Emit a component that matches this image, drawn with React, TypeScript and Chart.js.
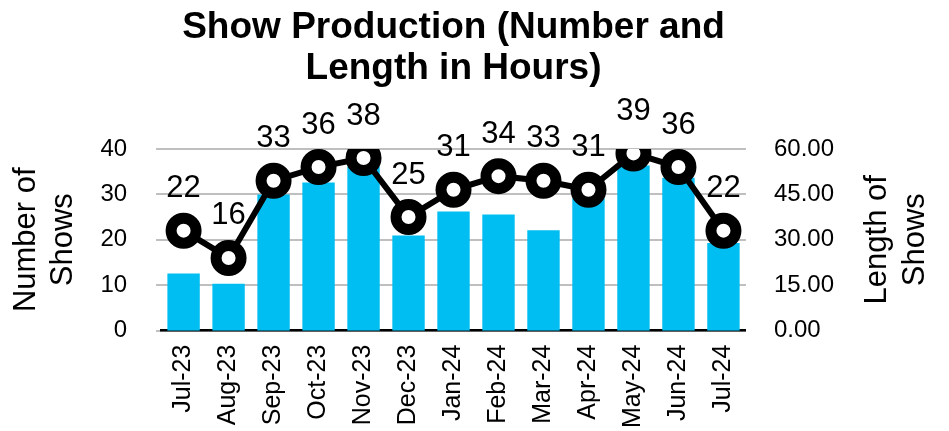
import React, { useEffect, useRef } from "react";
import { Chart, registerables } from "chart.js";

Chart.register(...registerables);

const categories = ["Jul-23", "Aug-23", "Sep-23", "Oct-23", "Nov-23", "Dec-23", "Jan-24", "Feb-24", "Mar-24", "Apr-24", "May-24", "Jun-24", "Jul-24"];
const numberOfShows = [22, 16, 33, 36, 38, 25, 31, 34, 33, 31, 39, 36, 22];
const lengthOfShows = [18.9, 15.5, 44.9, 48.9, 54.2, 31.4, 39.3, 38.3, 33.1, 43.7, 54.5, 50.5, 28.9];
const titleLines = ["Show Production (Number and", "Length in Hours)"];
const leftAxisTitle = ["Number of", "Shows"];
const rightAxisTitle = ["Length of", "Shows"];

const FONT = "'Liberation Sans', Arial, Helvetica, sans-serif";

const labelPlugin = {
  id: "pointLabels",
  afterDatasetsDraw(chart: any) {
    const meta = chart.getDatasetMeta(0);
    const ctx = chart.ctx;
    ctx.save();
    ctx.font = `31px ${FONT}`;
    ctx.fillStyle = "#000";
    ctx.textAlign = "center";
    ctx.textBaseline = "middle";
    meta.data.forEach((pt: any, i: number) => {
      ctx.fillText(String(numberOfShows[i]), pt.x, pt.y - 42);
    });
    ctx.restore();
  },
};

const rightTitlePlugin = {
  id: "rightTitle",
  afterDraw(chart: any) {
    const ctx = chart.ctx;
    const area = chart.chartArea;
    const cy = (area.top + area.bottom) / 2;
    const xs = [877, 915];
    ctx.save();
    ctx.font = `31px ${FONT}`;
    ctx.fillStyle = "#000";
    ctx.textAlign = "center";
    ctx.textBaseline = "middle";
    rightAxisTitle.forEach((line, i) => {
      ctx.save();
      ctx.translate(xs[i], cy);
      ctx.rotate(-Math.PI / 2);
      ctx.fillText(line, 0, 0);
      ctx.restore();
    });
    ctx.restore();
  },
};

export default function App() {
  const ref = useRef<HTMLCanvasElement | null>(null);
  useEffect(() => {
    if (!ref.current) return;
    const chart = new Chart(ref.current, {
      data: {
        labels: categories,
        datasets: [
          {
            type: "line",
            label: "Number of Shows",
            data: numberOfShows,
            yAxisID: "y",
            borderColor: "#000",
            borderWidth: 6,
            pointRadius: 12.5,
            pointBorderWidth: 11,
            pointBackgroundColor: "#fff",
            pointBorderColor: "#000",
            pointHoverRadius: 12.5,
            order: 0,
            tension: 0,
          },
          {
            type: "bar",
            label: "Length of Shows",
            data: lengthOfShows,
            yAxisID: "y1",
            backgroundColor: "#00BEF2",
            borderWidth: 0,
            categoryPercentage: 1,
            barPercentage: 0.72,
            order: 1,
          },
        ],
      } as any,
      options: {
        animation: false,
        responsive: true,
        maintainAspectRatio: false,
        layout: { padding: { top: 8, right: 87, bottom: -11, left: 8 } },
        plugins: {
          legend: { display: false },
          tooltip: { enabled: false },
          title: {
            display: true,
            text: titleLines,
            fullSize: false,
            color: "#000",
            font: { family: FONT, size: 37, weight: "bold", lineHeight: 1.12 },
            padding: { top: -1, bottom: 59 },
          },
        },
        scales: {
          x: {
            grid: { display: false, drawTicks: false },
            border: { display: true, color: "#000", width: 2.5 },
            ticks: {
              color: "#000",
              font: { family: FONT, size: 25 },
              maxRotation: 90,
              minRotation: 90,
              autoSkip: false,
              padding: 14,
            },
          },
          y: {
            position: "left",
            min: 0,
            max: 40,
            grid: { color: "#BFBFBF", lineWidth: 2, drawTicks: true, tickLength: 5 },
            border: { display: false },
            ticks: {
              stepSize: 10,
              color: "#000",
              font: { family: FONT, size: 24 },
              padding: 29,
            },
            title: {
              display: true,
              text: leftAxisTitle,
              color: "#000",
              font: { family: FONT, size: 31, lineHeight: 1.2 },
              padding: { top: 0, bottom: -11 },
            },
          },
          y1: {
            position: "right",
            min: 0,
            max: 60,
            grid: { display: false, drawTicks: false },
            border: { display: false },
            ticks: {
              stepSize: 15,
              color: "#000",
              font: { family: FONT, size: 24 },
              padding: 28,
              callback: (v: any) => Number(v).toFixed(2),
            },
          },
        },
      } as any,
      plugins: [labelPlugin, rightTitlePlugin],
    });
    return () => chart.destroy();
  }, []);
  return (
    <div style={{ position: "fixed", left: 0, top: 0, width: 949, height: 431 }}>
      <canvas ref={ref} />
    </div>
  );
}
